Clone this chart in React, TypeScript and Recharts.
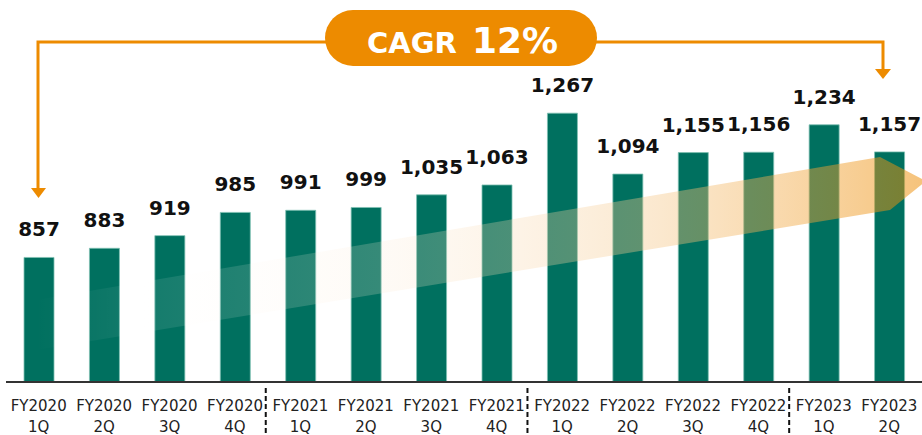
import { Bar, BarChart, LabelList, XAxis, YAxis } from "recharts";

const years = ["FY2020", "FY2020", "FY2020", "FY2020", "FY2021", "FY2021", "FY2021", "FY2021", "FY2022", "FY2022", "FY2022", "FY2022", "FY2023", "FY2023"];
const quarters = ["1Q", "2Q", "3Q", "4Q", "1Q", "2Q", "3Q", "4Q", "1Q", "2Q", "3Q", "4Q", "1Q", "2Q"];
const values = [857, 883, 919, 985, 991, 999, 1035, 1063, 1267, 1094, 1155, 1156, 1234, 1157];
const cagrLabel = "CAGR";
const cagrValue = "12%";

const data = values.map((v, i) => ({
  name: `${years[i]} ${quarters[i]}`,
  year: years[i],
  quarter: quarters[i],
  value: v,
}));

const FONT = '"DejaVu Sans", Verdana, sans-serif';
const TEAL = "#00705F";
const ORANGE = "#ED8B00";
const BAND = 917 / 14;

function QuarterTick(props: any) {
  const { x, y, index } = props;
  const d = data[index];
  const yearEnd = index === 3 || index === 7 || index === 11;
  return (
    <g>
      <text x={x} y={y + 29} textAnchor="middle" fontSize={15} fill="#222" fontFamily={FONT}>
        {d.year}
      </text>
      <text x={x} y={y + 50} textAnchor="middle" fontSize={15} fill="#222" fontFamily={FONT}>
        {d.quarter}
      </text>
      {yearEnd && (
        <line
          x1={x + BAND / 2 - 2}
          x2={x + BAND / 2 - 2}
          y1={y + 6}
          y2={y + 54}
          stroke="#111"
          strokeWidth={2}
          strokeDasharray="5 3"
        />
      )}
    </g>
  );
}

export default function App() {
  return (
    <div style={{ position: "absolute", left: 0, top: 0, width: 922, height: 435, background: "#fff" }}>
      <BarChart
        width={922}
        height={435}
        data={data}
        margin={{ top: 2, right: 0, left: 6, bottom: 0 }}
        style={{ fontFamily: FONT }}
      >
        <YAxis hide domain={[503, 1583]} allowDataOverflow />
        <XAxis
          dataKey="name"
          interval={0}
          height={53}
          tickLine={false}
          tickSize={0}
          tickMargin={0}
          axisLine={{ stroke: "#333", strokeWidth: 2 }}
          tick={<QuarterTick />}
        />
        <Bar dataKey="value" fill={TEAL} stroke="#7fc0b3" strokeWidth={0.8} barSize={30} isAnimationActive={false}>
          <LabelList
            dataKey="value"
            position="top"
            offset={21}
            formatter={(v: any) => Number(v).toLocaleString("en-US")}
            style={{ fontSize: 20, fontWeight: "bold", fill: "#111", fontFamily: FONT }}
          />
        </Bar>
      </BarChart>
      <svg
        width={922}
        height={435}
        style={{ position: "absolute", left: 0, top: 0, pointerEvents: "none" }}
      >
        <defs>
          <linearGradient id="growth" x1="0" y1="0" x2="1" y2="0">
            <stop offset="0" stopColor="#ffffff" stopOpacity={0} />
            <stop offset="0.12" stopColor="#ffffff" stopOpacity={0.08} />
            <stop offset="0.4" stopColor="#FCE9D2" stopOpacity={0.22} />
            <stop offset="0.7" stopColor="#F5C686" stopOpacity={0.4} />
            <stop offset="1" stopColor={ORANGE} stopOpacity={0.52} />
          </linearGradient>
        </defs>
        <polygon points="36,300 880,157 926,181 890,210 36,350" fill="url(#growth)" />
        <path d="M38 188 V42 H883 V70" fill="none" stroke={ORANGE} strokeWidth={3} />
        <polygon points="31,188 46,188 38.5,198" fill={ORANGE} />
        <polygon points="875,69 891,69 883,79" fill={ORANGE} />
        <rect x={325} y={10} width={272} height={56} rx={28} fill={ORANGE} />
        <text x={367} y={53} fontSize={29} fontWeight="bold" fill="#fff" fontFamily={FONT}>
          {cagrLabel}
        </text>
        <text x={472} y={53} fontSize={36} fontWeight="bold" fill="#fff" fontFamily={FONT}>
          {cagrValue}
        </text>
      </svg>
    </div>
  );
}
